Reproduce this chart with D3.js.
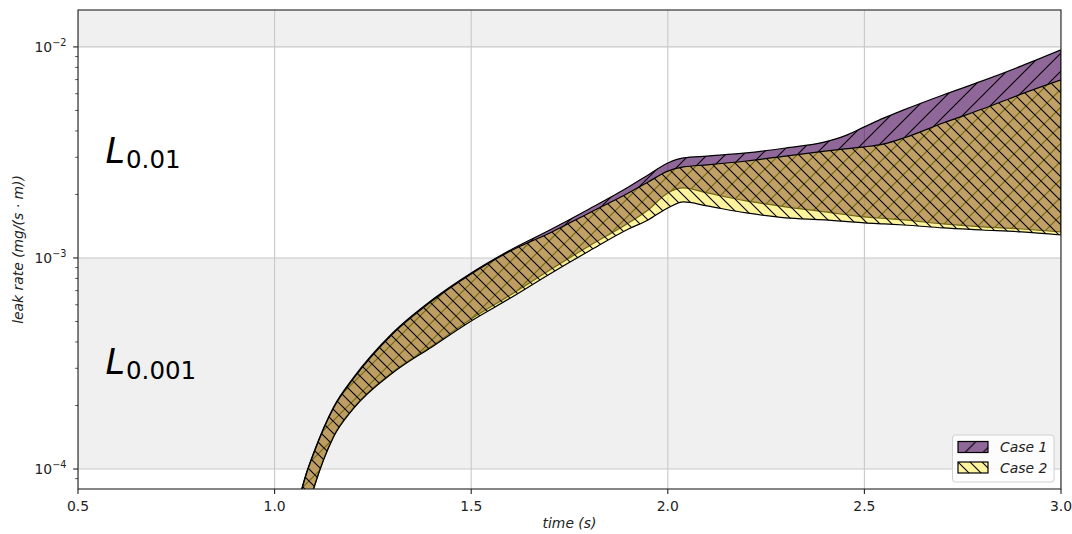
<!DOCTYPE html>
<html>
<head>
<meta charset="utf-8">
<script src="https://cdn.jsdelivr.net/npm/d3@7"></script>
<style>
  html, body { margin: 0; padding: 0; background: #fff; }
  svg { display: block; font-family: "DejaVu Sans", sans-serif; }
</style>
</head>
<body>
<svg id="chart" width="1072" height="534"></svg>
<script>
// sample times (s)
const times = [1.06, 1.08, 1.1, 1.15, 1.2, 1.3, 1.4, 1.5, 1.6, 1.7, 1.8, 1.9, 1.95, 2.0, 2.04,
  2.1, 2.2, 2.3, 2.4, 2.45, 2.5, 2.55, 2.6, 2.7, 2.8, 2.9, 3.0];

// leak rate bounds, mg/(s·m)
const case1Upper = [6.98e-5, 9.47e-5, 1.204e-4, 1.967e-4, 2.70e-4, 4.41e-4, 6.32e-4, 8.49e-4, 1.091e-3,
  1.357e-3, 1.707e-3, 2.17e-3, 2.474e-3, 2.82e-3, 2.98e-3, 3.04e-3, 3.145e-3, 3.32e-3, 3.55e-3,
  3.79e-3, 4.18e-3, 4.61e-3, 5.03e-3, 5.92e-3, 6.90e-3, 8.13e-3, 9.68e-3];
const case1Lower = [4.41e-5, 6.12e-5, 8.22e-5, 1.433e-4, 1.946e-4, 2.88e-4, 3.83e-4, 5.14e-4, 6.68e-4,
  8.77e-4, 1.140e-3, 1.465e-3, 1.688e-3, 2.033e-3, 2.147e-3, 2.033e-3, 1.863e-3, 1.745e-3, 1.652e-3,
  1.607e-3, 1.564e-3, 1.539e-3, 1.514e-3, 1.449e-3, 1.403e-3, 1.372e-3, 1.328e-3];
const case2Upper = [6.90e-5, 9.37e-5, 1.191e-4, 1.946e-4, 2.67e-4, 4.36e-4, 6.25e-4, 8.40e-4, 1.079e-3,
  1.314e-3, 1.634e-3, 2.033e-3, 2.29e-3, 2.58e-3, 2.70e-3, 2.76e-3, 2.88e-3, 3.04e-3, 3.21e-3,
  3.29e-3, 3.36e-3, 3.47e-3, 3.70e-3, 4.36e-3, 5.08e-3, 5.99e-3, 6.98e-3];
const case2Lower = [4.36e-5, 6.05e-5, 8.13e-5, 1.418e-4, 1.925e-4, 2.85e-4, 3.79e-4, 5.03e-4, 6.46e-4,
  8.40e-4, 1.079e-3, 1.372e-3, 1.514e-3, 1.726e-3, 1.843e-3, 1.764e-3, 1.634e-3, 1.547e-3, 1.514e-3,
  1.489e-3, 1.465e-3, 1.449e-3, 1.433e-3, 1.388e-3, 1.357e-3, 1.328e-3, 1.285e-3];

const xTicks = [0.5, 1.0, 1.5, 2.0, 2.5, 3.0];
const yTicks = [1e-4, 1e-3, 1e-2];
const shadedBands = [[1e-4, 1e-3], [1e-2, 1e-1]];
const levels = [
  { sub: "0.01", lo: 1e-3, hi: 1e-2 },
  { sub: "0.001", lo: 1e-4, hi: 1e-3 }
];
const cases = [
  { name: "Case 1", upper: case1Upper, lower: case1Lower },
  { name: "Case 2", upper: case2Upper, lower: case2Lower }
];

const W = 1072, H = 534;
const M = { top: 10, right: 11, bottom: 45, left: 78 };
const iw = W - M.left - M.right, ih = H - M.top - M.bottom;

const svg = d3.select("#chart");
const defs = svg.append("defs");
const g = svg.append("g").attr("transform", `translate(${M.left},${M.top})`);

const x = d3.scaleLinear().domain([0.5, 3.0]).range([0, iw]);
const y = d3.scaleLog().domain([8.04e-5, 1.496e-2]).range([ih, 0]);

defs.append("clipPath").attr("id", "plot-clip")
  .append("rect").attr("width", iw).attr("height", ih);

/** diagonal hatch pattern in screen space */
function hatch(id, s, dir) {
  const p = defs.append("pattern").attr("id", id)
    .attr("patternUnits", "userSpaceOnUse")
    .attr("width", s).attr("height", s);
  const d = dir === "/"
    ? `M0,${s}L${s},0M${-s / 2},${s / 2}L${s / 2},${-s / 2}M${s / 2},${s * 1.5}L${s * 1.5},${s / 2}`
    : `M0,0L${s},${s}M${-s / 2},${s / 2}L${s / 2},${s * 1.5}M${s / 2},${-s / 2}L${s * 1.5},${s / 2}`;
  p.append("path").attr("d", d).attr("stroke", "#000").attr("stroke-width", 1.1).attr("fill", "none");
}
hatch("hatch-fwd", 18, "/");
hatch("hatch-back", 12, "\\");

const styles = [
  { fill: "#440154", opacity: 0.6, pattern: "url(#hatch-fwd)" },
  { fill: "#fde725", opacity: 0.45, pattern: "url(#hatch-back)" }
];

// background bands
const plot = g.append("g").attr("clip-path", "url(#plot-clip)");
plot.selectAll("rect.band").data(shadedBands).join("rect")
  .attr("class", "band")
  .attr("x", 0).attr("width", iw)
  .attr("y", d => y(d[1])).attr("height", d => y(d[0]) - y(d[1]))
  .attr("fill", "#f0f0f0");

// grid
plot.selectAll("line.gx").data(xTicks).join("line")
  .attr("x1", d => x(d)).attr("x2", d => x(d)).attr("y1", 0).attr("y2", ih)
  .attr("stroke", "#c8c8c8").attr("stroke-width", 1.1);
plot.selectAll("line.gy").data(yTicks).join("line")
  .attr("y1", d => y(d)).attr("y2", d => y(d)).attr("x1", 0).attr("x2", iw)
  .attr("stroke", "#c8c8c8").attr("stroke-width", 1.1);

// level labels
levels.forEach(l => {
  const t = g.append("text")
    .attr("x", x(0.57))
    .attr("y", y(Math.sqrt(l.lo * l.hi)) + 10.5)
    .attr("fill", "#000");
  t.append("tspan").attr("font-size", 35).attr("font-style", "italic").text("L");
  t.append("tspan").attr("font-size", 24.5).attr("dx", 1).attr("dy", 5.5).text(l.sub);
});

// bands
const area = d3.area()
  .x((d, i) => x(times[i]))
  .y0(d => y(d[0]))
  .y1(d => y(d[1]))
  .curve(d3.curveMonotoneX);

cases.forEach((c, k) => {
  const pts = c.lower.map((v, i) => [v, c.upper[i]]);
  const st = styles[k];
  const path = area(pts);
  plot.append("path").attr("d", path).attr("fill", st.fill).attr("fill-opacity", st.opacity);
  plot.append("path").attr("d", path).attr("fill", st.pattern);
  plot.append("path").attr("d", path).attr("fill", "none")
    .attr("stroke", "#000").attr("stroke-width", 1.2).attr("stroke-linejoin", "round");
});

// axes
const axisColor = "#222";
const xAxis = g.append("g").attr("transform", `translate(0,${ih})`);
xAxis.selectAll("line").data(xTicks).join("line")
  .attr("x1", d => x(d)).attr("x2", d => x(d)).attr("y1", 0).attr("y2", 4.9)
  .attr("stroke", axisColor).attr("stroke-width", 1.1);
xAxis.selectAll("text").data(xTicks).join("text")
  .attr("x", d => x(d)).attr("y", 21.5)
  .attr("text-anchor", "middle").attr("font-size", 13.9).attr("fill", axisColor)
  .text(d => d3.format(".1f")(d));

const minor = [];
for (let e = -5; e <= -2; e++) {
  for (let m = 2; m <= 9; m++) {
    const v = m * Math.pow(10, e);
    if (v >= y.domain()[0] && v <= y.domain()[1]) minor.push(v);
  }
}
const yAxis = g.append("g");
yAxis.selectAll("line.minor").data(minor).join("line")
  .attr("class", "minor")
  .attr("x1", -2.8).attr("x2", 0).attr("y1", d => y(d)).attr("y2", d => y(d))
  .attr("stroke", axisColor).attr("stroke-width", 0.8);
yAxis.selectAll("line.major").data(yTicks).join("line")
  .attr("class", "major")
  .attr("x1", -4.9).attr("x2", 0).attr("y1", d => y(d)).attr("y2", d => y(d))
  .attr("stroke", axisColor).attr("stroke-width", 1.1);
const yl = yAxis.selectAll("text").data(yTicks).join("text")
  .attr("x", -11.5).attr("y", d => y(d) + 5)
  .attr("text-anchor", "end").attr("font-size", 13.9).attr("fill", axisColor);
yl.append("tspan").text("10");
yl.append("tspan").attr("font-size", 9.7).attr("dy", -6).text(d => "\u2212" + (-Math.round(Math.log10(d))));

// spines
g.append("rect").attr("width", iw).attr("height", ih)
  .attr("fill", "none").attr("stroke", axisColor).attr("stroke-width", 1.1);

// axis labels
g.append("text")
  .attr("x", iw / 2).attr("y", ih + 39)
  .attr("text-anchor", "middle").attr("font-size", 13.9).attr("font-style", "italic").attr("fill", axisColor)
  .text("time (s)");
g.append("text")
  .attr("transform", `translate(${-M.left + 23},${ih / 2}) rotate(-90)`)
  .attr("text-anchor", "middle").attr("font-size", 13.9).attr("font-style", "italic").attr("fill", axisColor)
  .text("leak rate (mg/(s \u00b7 m))");

// legend
const lg = g.append("g").attr("transform", `translate(${952.5 - M.left},${435 - M.top})`);
lg.append("rect").attr("width", 101.5).attr("height", 47).attr("rx", 3)
  .attr("fill", "#fff").attr("fill-opacity", 0.8).attr("stroke", "#d0d0d0").attr("stroke-width", 1);
cases.forEach((c, k) => {
  const st = styles[k];
  const row = lg.append("g").attr("transform", `translate(5.5,${6.5 + k * 20.5})`);
  row.append("rect").attr("width", 30).attr("height", 11).attr("fill", "#fff");
  row.append("rect").attr("width", 30).attr("height", 11).attr("fill", st.fill).attr("fill-opacity", st.opacity);
  row.append("rect").attr("width", 30).attr("height", 11).attr("fill", st.pattern)
    .attr("stroke", "#000").attr("stroke-width", 1.2);
  row.append("text").attr("x", 42).attr("y", 10.5)
    .attr("font-size", 13.9).attr("font-style", "italic").attr("fill", axisColor)
    .text(c.name);
});
</script>
</body>
</html>
